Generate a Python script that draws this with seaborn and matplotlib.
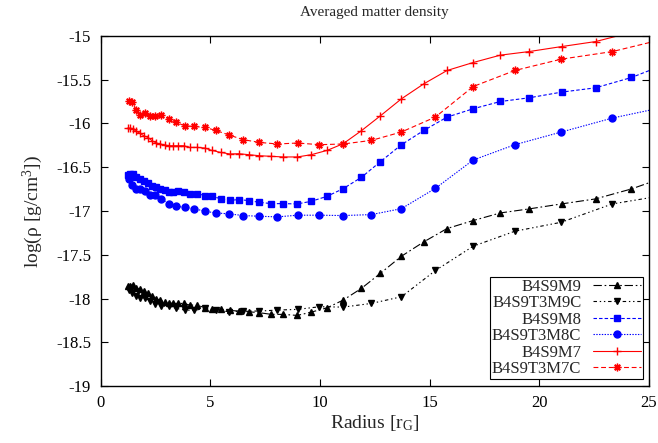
import numpy as np
import pandas as pd
import matplotlib
matplotlib.use('Agg')
import matplotlib.pyplot as plt
import seaborn as sns

# radii of the two run families (B4S9M* and B4S9T3M*C)
r_M = [1.25, 1.35, 1.48, 1.63, 1.78, 1.96, 2.16, 2.36, 2.54, 2.72, 2.92, 3.10, 3.30, 3.53,
       3.80, 4.06, 4.41, 4.75, 5.06, 5.47, 5.89, 6.30, 6.75, 7.24, 7.79, 8.32, 8.97, 9.61,
       10.33, 11.06, 11.89, 12.76, 13.72, 14.74, 15.80, 16.99, 18.23, 19.54, 21.02, 22.57,
       24.21, 26.0]
r_T = [1.28, 1.43, 1.63, 1.81, 2.01, 2.24, 2.48, 2.76, 3.10, 3.45, 3.83, 4.26, 4.75, 5.25,
       5.86, 6.51, 7.24, 8.06, 8.98, 9.98, 11.06, 12.35, 13.72, 15.27, 16.99, 18.89, 21.00,
       23.34, 25.95]

# log density
rho_M9 = [-17.86, -17.85, -17.84, -17.875, -17.895, -17.914, -17.94, -17.971, -18.0, -18.02,
          -18.039, -18.054, -18.054, -18.054, -18.054, -18.073, -18.073, -18.104, -18.115,
          -18.122, -18.134, -18.141, -18.149, -18.16, -18.179, -18.179, -18.191, -18.153,
          -18.104, -18.016, -17.883, -17.71, -17.515, -17.351, -17.199, -17.108, -17.021,
          -16.975, -16.918, -16.861, -16.747, -16.59]
rho_T3M9C = [-17.902, -17.932, -17.971, -17.989, -17.989, -18.028, -18.066, -18.085, -18.085,
             -18.111, -18.13, -18.134, -18.111, -18.13, -18.149, -18.141, -18.141, -18.13,
             -18.122, -18.092, -18.096, -18.054, -17.978, -17.678, -17.401, -17.23, -17.128,
             -16.918, -16.81]
rho_M8 = [-16.584, -16.573, -16.573, -16.611, -16.634, -16.66, -16.679, -16.709, -16.725,
          -16.748, -16.755, -16.786, -16.786, -16.774, -16.786, -16.801, -16.801, -16.823,
          -16.831, -16.858, -16.877, -16.869, -16.88, -16.9, -16.915, -16.915, -16.918,
          -16.888, -16.831, -16.744, -16.615, -16.436, -16.242, -16.079, -15.927, -15.832,
          -15.749, -15.707, -15.642, -15.593, -15.475, -15.30]
rho_T3M8C = [-16.63, -16.698, -16.748, -16.748, -16.774, -16.82, -16.82, -16.861, -16.915,
             -16.945, -16.957, -16.972, -17.002, -17.021, -17.032, -17.051, -17.059, -17.066,
             -17.047, -17.047, -17.051, -17.04, -16.972, -16.74, -16.417, -16.242, -16.098,
             -15.938, -15.80]
rho_M7 = [-16.05, -16.055, -16.063, -16.091, -16.109, -16.14, -16.16, -16.2, -16.223, -16.234,
          -16.245, -16.254, -16.254, -16.254, -16.254, -16.273, -16.273, -16.28, -16.307,
          -16.33, -16.348, -16.345, -16.356, -16.368, -16.375, -16.382, -16.382, -16.356,
          -16.307, -16.231, -16.083, -15.912, -15.718, -15.547, -15.395, -15.304, -15.22,
          -15.179, -15.122, -15.065, -14.96, -14.88]
rho_T3M7C = [-15.749, -15.76, -15.843, -15.9, -15.881, -15.912, -15.912, -15.9, -15.949,
             -15.988, -16.026, -16.034, -16.045, -16.079, -16.132, -16.185, -16.216, -16.234,
             -16.223, -16.242, -16.234, -16.193, -16.097, -15.926, -15.578, -15.395, -15.266,
             -15.179, -15.02]

names = ['B4S9M9', 'B4S9T3M9C', 'B4S9M8', 'B4S9T3M8C', 'B4S9M7', 'B4S9T3M7C']
xs = [r_M, r_T, r_M, r_T, r_M, r_T]
ys = [rho_M9, rho_T3M9C, rho_M8, rho_T3M8C, rho_M7, rho_T3M7C]

xticks = [0, 5, 10, 15, 20, 25]
yticks = [-19, -18.5, -18, -17.5, -17, -16.5, -16, -15.5, -15]
ytick_labels = ['-19', '-18.5', '-18', '-17.5', '-17', '-16.5', '-16', '-15.5', '-15']

sns.set_theme(style='ticks')
plt.rcParams['font.family'] = ['Liberation Serif', 'DejaVu Serif']
plt.rcParams['mathtext.fontset'] = 'custom'
plt.rcParams['mathtext.rm'] = 'Liberation Serif'
plt.rcParams['mathtext.it'] = 'Liberation Serif:italic'
plt.rcParams['lines.scale_dashes'] = False

# gnuplot-ish styles
colors = ['black', 'black', '#0000ff', '#0000ff', '#ff0000', '#ff0000']
markers = ['^', 'v', 's', 'o', '+', (8, 2, 0)]
msizes = [4.5, 4.5, 5, 5, 6, 5.5]
dashes = [(0, (6, 2, 1.2, 2)), (0, (2.5, 2, 1, 2, 1, 2)), (0, (2.5, 1.5)), (0, (1, 1)),
          '-', (0, (3.5, 2))]

fig, ax = plt.subplots(figsize=(6.58, 4.43), dpi=100)
fig.subplots_adjust(left=0.153, right=0.986, top=0.919, bottom=0.128)

for i in range(len(names)):
    df = pd.DataFrame({'r': xs[i], 'rho': ys[i]})
    sns.lineplot(data=df, x='r', y='rho', ax=ax, color=colors[i], marker=markers[i],
                 markersize=msizes[i], markeredgecolor=colors[i], markeredgewidth=1.0,
                 linestyle=dashes[i], linewidth=0.8, estimator=None, sort=False,
                 label=names[i], legend=False)

ax.set_xlim(0, 25)
ax.set_ylim(-19, -15)
ax.set_xticks(xticks)
ax.set_xticklabels([str(t) for t in xticks])
ax.set_yticks(yticks)
ax.set_yticklabels(ytick_labels)
ax.tick_params(direction='in', length=5, width=0.8, top=True, right=True,
               labelsize=12, colors='black')
ax.tick_params(axis='x', pad=6)
ax.tick_params(axis='y', pad=7)
for sp in ax.spines.values():
    sp.set_linewidth(1.0)
    sp.set_color('black')

ax.set_xlabel(r'Radius [r$_\mathrm{G}$]', fontsize=14, labelpad=2)
ax.set_ylabel(r'log(ρ [g/cm$^3$])', fontsize=14, labelpad=8)
ax.set_title('Averaged matter density', fontsize=11, pad=14)

handles, labels = ax.get_legend_handles_labels()
leg = ax.legend(handles, labels, loc='lower right', markerfirst=False, fontsize=12,
                frameon=True, fancybox=False, framealpha=1, edgecolor='black',
                borderpad=0.12, labelspacing=0.03, handlelength=2.9, handletextpad=0.7,
                borderaxespad=0.0, bbox_to_anchor=(0.99, 0.02))
leg.get_frame().set_linewidth(0.8)

fig.savefig('out.png', dpi=100)
